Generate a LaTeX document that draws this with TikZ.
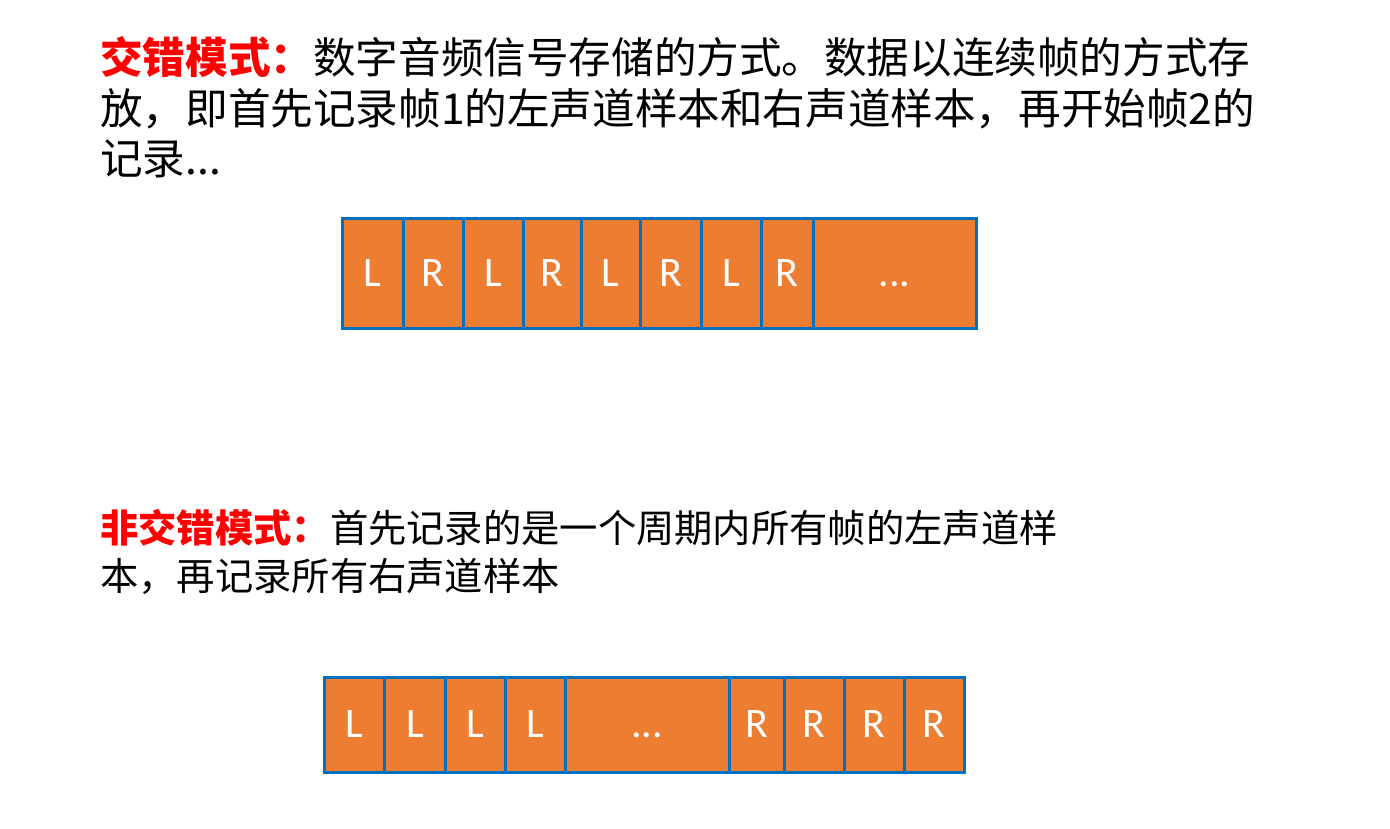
\documentclass[tikz,border=0pt]{standalone}
\usepackage{fontspec}
\setmainfont{Noto Sans CJK SC}
\newfontfamily\lat{Carlito}
\definecolor{cellfill}{HTML}{ED7D31}
\definecolor{cellline}{HTML}{0070C0}
\definecolor{headred}{HTML}{FF0000}
\tikzset{
  txtA/.style={anchor=base west, inner sep=0pt, font=\fontsize{42.6}{51}\selectfont},
  txtB/.style={anchor=base west, inner sep=0pt, font=\fontsize{38.3}{46}\selectfont},
  cell/.style={draw=cellline, line width=3pt, fill=cellfill, inner sep=0pt,
    text=white, font=\lat\fontsize{42}{44}\selectfont},
  rowA/.style={cell, minimum height=109pt},
  rowB/.style={cell, minimum height=95pt}
}
\begin{document}
\begin{tikzpicture}[x=1pt,y=-1pt]
\useasboundingbox (0,0) rectangle (1390,829);
% texts
\node[txtA] (t1) at (100,74) {\textcolor{headred}{\bfseries 交错模式：}数字音频信号存储的方式。数据以连续帧的方式存};
\node[txtA] (t2) at (100,125) {放，即首先记录帧1的左声道样本和右声道样本，再开始帧2的};
\node[txtA] (t3) at (100,175) {记录...};
\node[txtB] (u1) at (100,542) {\textcolor{headred}{\bfseries 非交错模式：}首先记录的是一个周期内所有帧的左声道样};
\node[txtB] (u2) at (100,590) {本，再记录所有右声道样本};
% row 1 (interleaved)
\node[rowA, minimum width=61pt]  (a1) at (372.5,273.5) {L};
\node[rowA, minimum width=60pt]  (a2) at (433,273.5) {R};
\node[rowA, minimum width=60pt]  (a3) at (493,273.5) {L};
\node[rowA, minimum width=58pt]  (a4) at (552,273.5) {R};
\node[rowA, minimum width=59pt]  (a5) at (610.5,273.5) {L};
\node[rowA, minimum width=61pt]  (a6) at (670.5,273.5) {R};
\node[rowA, minimum width=60pt]  (a7) at (731,273.5) {L};
\node[rowA, minimum width=52pt]  (a8) at (787,273.5) {R};
\node[rowA, minimum width=163pt] (a9) at (894.5,273.5) {\vphantom{L}...};
% row 2 (non-interleaved)
\node[rowB, minimum width=60.5pt] (b1) at (354.25,724.5) {L};
\node[rowB, minimum width=61pt]   (b2) at (415,724.5) {L};
\node[rowB, minimum width=60pt]   (b3) at (475.5,724.5) {L};
\node[rowB, minimum width=60pt]   (b4) at (535.5,724.5) {L};
\node[rowB, minimum width=163.5pt] (b5) at (647.25,724.5) {\vphantom{L}...};
\node[rowB, minimum width=55pt]   (b6) at (756.5,724.5) {R};
\node[rowB, minimum width=60pt]   (b7) at (814,724.5) {R};
\node[rowB, minimum width=60pt]   (b8) at (874,724.5) {R};
\node[rowB, minimum width=60pt]   (b9) at (934,724.5) {R};
\end{tikzpicture}
\end{document}
